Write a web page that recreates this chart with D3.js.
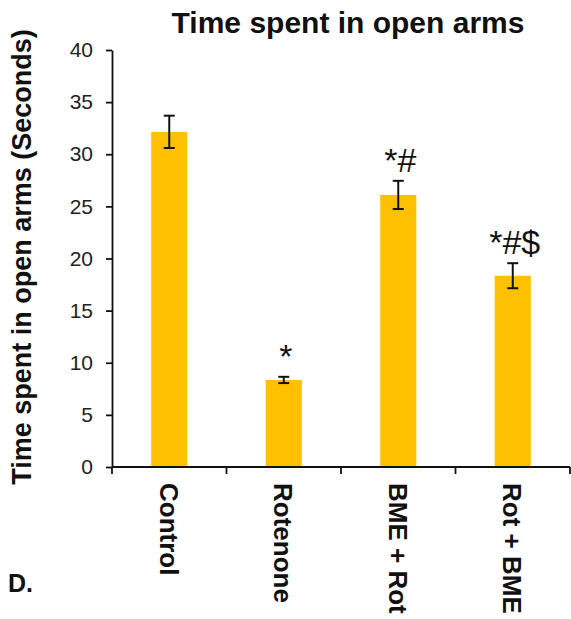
<!DOCTYPE html>
<html>
  <head>
    <title>Time spent in open arms</title>
    <script src="https://d3js.org/d3.v7.min.js"></script>
    <style>
      body { margin: 0; background: #fff; }
      text { font-family: "Liberation Sans", Arial, sans-serif; }
    </style>
  </head>
  <body>
    <div id="vis"></div>
    <script>
      // data
      var groups = ["Control", "Rotenone", "BME + Rot", "Rot + BME"];
      var means = [32.15, 8.35, 26.1, 18.35];
      var errors = [1.55, 0.3, 1.35, 1.2];
      var marks = ["", "*", "*#", "*#$"];
      var yTicks = [0, 5, 10, 15, 20, 25, 30, 35, 40];

      var width = 571;
      var height = 619;

      var svg = d3.select("#vis")
        .append("svg")
        .attr("width", width)
        .attr("height", height);

      // plot edges (note: "top" is taken by window.top)
      var plotLeft = 112, plotRight = 570, plotTop = 50, plotBottom = 467;

      var x = d3.scaleBand()
        .domain(groups)
        .range([plotLeft, plotRight])
        .paddingInner(0.685)
        .paddingOuter(0.3425);

      var y = d3.scaleLinear()
        .domain([0, 40])
        .range([plotBottom, plotTop]);

      // bars
      svg.append("g")
        .selectAll("rect")
        .data(groups)
        .enter()
        .append("rect")
        .attr("x", function (d) { return x(d); })
        .attr("y", function (d, i) { return y(means[i]); })
        .attr("width", x.bandwidth())
        .attr("height", function (d, i) { return y(0) - y(means[i]); })
        .style("fill", "#FFC000");

      // error bars
      var eb = svg.append("g")
        .attr("stroke", "#111")
        .attr("stroke-width", 2);
      groups.forEach(function (g, i) {
        var cx = x(g) + x.bandwidth() / 2;
        var hi = y(means[i] + errors[i]), lo = y(means[i] - errors[i]);
        eb.append("line").attr("x1", cx).attr("x2", cx).attr("y1", hi).attr("y2", lo);
        eb.append("line").attr("x1", cx - 5.5).attr("x2", cx + 5.5).attr("y1", hi).attr("y2", hi);
        eb.append("line").attr("x1", cx - 5.5).attr("x2", cx + 5.5).attr("y1", lo).attr("y2", lo);
      });

      // significance marks
      svg.append("g")
        .selectAll("text")
        .data(groups)
        .enter()
        .append("text")
        .attr("x", function (d) { return x(d) + x.bandwidth() / 2 + 2; })
        .attr("y", function (d, i) { return y(means[i] + errors[i]) - 9; })
        .attr("text-anchor", "middle")
        .style("font-size", "34px")
        .style("fill", "#111")
        .text(function (d, i) { return marks[i]; });

      // y axis
      var yAxis = svg.append("g")
        .attr("transform", "translate(" + plotLeft + ",0)")
        .call(d3.axisLeft(y).tickValues(yTicks).tickSize(6).tickSizeOuter(0).tickPadding(13));
      yAxis.select(".domain").attr("stroke", "#111").attr("stroke-width", 1.8);
      yAxis.selectAll(".tick line").attr("stroke", "#111").attr("stroke-width", 1.8);
      yAxis.selectAll(".tick text")
        .style("font-size", "21px")
        .style("font-family", "'Liberation Sans', Arial, sans-serif")
        .attr("fill", "#222");

      // x axis: line with ticks at category boundaries
      var xAxis = svg.append("g")
        .attr("stroke", "#111")
        .attr("stroke-width", 1.8);
      xAxis.append("line")
        .attr("x1", plotLeft).attr("x2", plotRight)
        .attr("y1", y(0)).attr("y2", y(0));
      d3.range(groups.length + 1).forEach(function (i) {
        var tx = plotLeft + x.step() * i;
        xAxis.append("line")
          .attr("x1", tx).attr("x2", tx)
          .attr("y1", y(0)).attr("y2", y(0) + 7);
      });

      svg.append("g")
        .selectAll("text")
        .data(groups)
        .enter()
        .append("text")
        .attr("transform", function (d) {
          return "translate(" + (x(d) + x.bandwidth() / 2) + "," + 483 + ") rotate(90)";
        })
        .attr("dy", "0.36em")
        .style("font-size", "26px")
        .style("font-weight", "bold")
        .style("fill", "#111")
        .text(function (d) { return d; });

      // titles
      svg.append("text")
        .attr("x", 348)
        .attr("y", 33)
        .attr("text-anchor", "middle")
        .style("font-size", "30px")
        .style("font-weight", "bold")
        .style("fill", "#111")
        .text("Time spent in open arms");

      svg.append("text")
        .attr("transform", "translate(31," + 257 + ") rotate(-90)")
        .attr("text-anchor", "middle")
        .style("font-size", "27px")
        .style("font-weight", "bold")
        .style("fill", "#111")
        .text("Time spent in open arms (Seconds)");

      svg.append("text")
        .attr("x", 8)
        .attr("y", 592)
        .style("font-size", "25px")
        .style("font-weight", "bold")
        .style("fill", "#111")
        .text("D.");
    </script>
  </body>
</html>
